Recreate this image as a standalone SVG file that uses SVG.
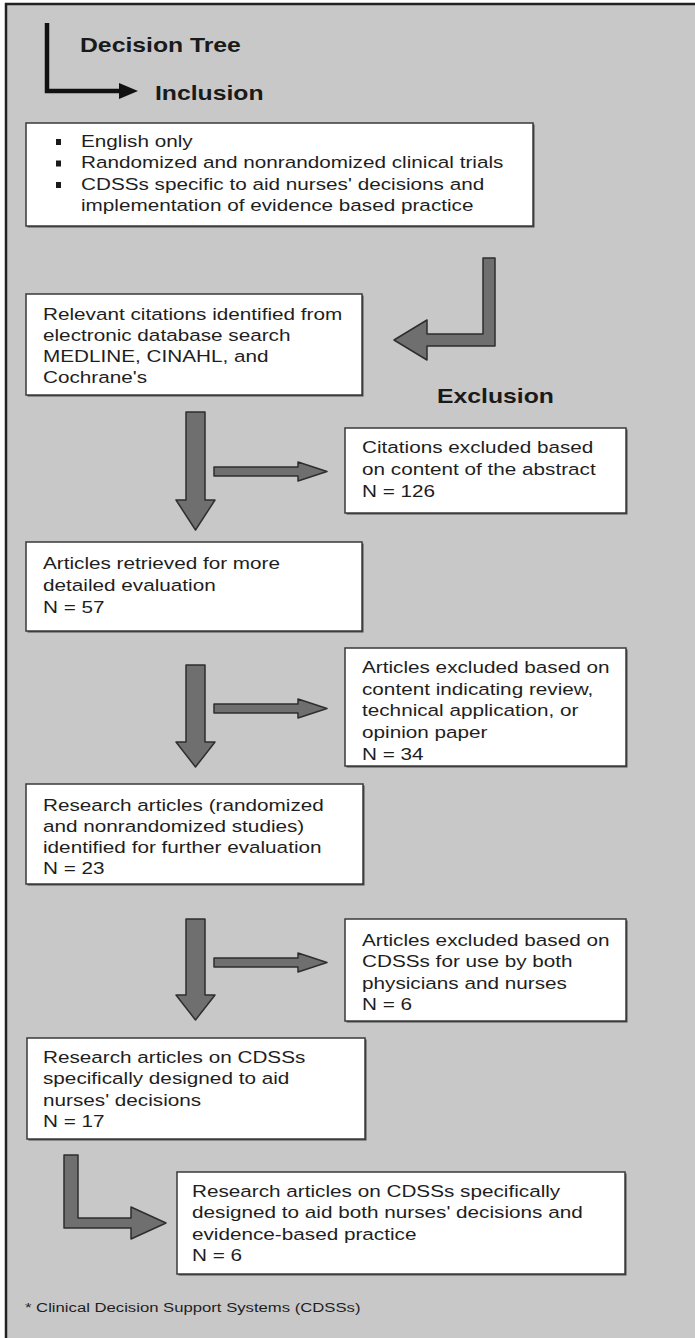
<svg xmlns="http://www.w3.org/2000/svg" width="695" height="1338" viewBox="0 0 695 1338">
  <defs>
    <style>
      .bg { fill: #c8c8c8; }
      .frame { fill: none; stroke: #222; stroke-width: 2.5; }
      .box { fill: #ffffff; stroke: #3a3a3a; stroke-width: 1.5; }
      .shadow { fill: #4a4a4a; }
      .arr { fill: #6f6f6f; stroke: #2e2e2e; stroke-width: 1.5; stroke-linejoin: round; }
      .t { font-family: "Liberation Sans", Arial, sans-serif; font-size: 16.5px; fill: #1e1e1e; }
      .h { font-family: "Liberation Sans", Arial, sans-serif; font-size: 19.5px; font-weight: bold; fill: #1a1a1a; }
      .f { font-family: "Liberation Sans", Arial, sans-serif; font-size: 13.3px; fill: #1e1e1e; }
      .bullet { fill: #1a1a1a; }
    </style>
  </defs>

  <!-- page -->
  <rect x="0" y="0" width="695" height="1338" fill="#ffffff"/>
  <rect class="bg" x="6" y="4" width="689" height="1334"/>
  <path class="frame" d="M6,1338 V4 H695"/>

  <!-- legend: decision tree / inclusion -->
  <g id="legend">
    <path d="M47,23 V91 H122" fill="none" stroke="#111" stroke-width="4.5" stroke-linejoin="miter"/>
    <polygon points="119,83 138,91 119,99" fill="#111"/>
    <text class="h" transform="translate(80,52) scale(1.27,1)">Decision Tree</text>
    <text class="h" transform="translate(155,100) scale(1.27,1)">Inclusion</text>
  </g>

  <g id="exclusion-label">
    <text class="h" transform="translate(437,403) scale(1.27,1)">Exclusion</text>
  </g>

  <!-- inclusion criteria -->
  <g id="criteria">
    <rect class="shadow" x="27.5" y="124.5" width="507" height="103"/>
    <rect class="box" x="26" y="123" width="507" height="103"/>
    <rect class="bullet" x="56" y="139" width="5" height="6"/>
    <rect class="bullet" x="56" y="160.5" width="5" height="6"/>
    <rect class="bullet" x="56" y="182" width="5" height="6"/>
    <text class="t" transform="translate(81,147) scale(1.255,1)">
      <tspan x="0" y="0">English only</tspan>
      <tspan x="0" y="21.5">Randomized and nonrandomized clinical trials</tspan>
      <tspan x="0" y="43">CDSSs specific to aid nurses' decisions and</tspan>
      <tspan x="0" y="64.5">implementation of evidence based practice</tspan>
    </text>
  </g>

  <g id="search">
    <rect class="shadow" x="27.5" y="295.5" width="336" height="101"/>
    <rect class="box" x="26" y="294" width="336" height="101"/>
    <text class="t" transform="translate(43,320) scale(1.255,1)">
      <tspan x="0" y="0">Relevant citations identified from</tspan>
      <tspan x="0" y="21">electronic database search</tspan>
      <tspan x="0" y="42">MEDLINE, CINAHL, and</tspan>
      <tspan x="0" y="63">Cochrane's</tspan>
    </text>
  </g>

  <g id="excluded-abstract">
    <rect class="shadow" x="346.5" y="429.5" width="281" height="85"/>
    <rect class="box" x="345" y="428" width="281" height="85"/>
    <text class="t" transform="translate(362,453) scale(1.255,1)">
      <tspan x="0" y="0">Citations excluded based</tspan>
      <tspan x="0" y="22">on content of the abstract</tspan>
      <tspan x="0" y="44">N = 126</tspan>
    </text>
  </g>

  <g id="retrieved">
    <rect class="shadow" x="27.5" y="543.5" width="336" height="89"/>
    <rect class="box" x="26" y="542" width="336" height="89"/>
    <text class="t" transform="translate(43,569) scale(1.255,1)">
      <tspan x="0" y="0">Articles retrieved for more</tspan>
      <tspan x="0" y="22">detailed evaluation</tspan>
      <tspan x="0" y="44">N = 57</tspan>
    </text>
  </g>

  <g id="excluded-review">
    <rect class="shadow" x="346.5" y="649.5" width="281" height="118"/>
    <rect class="box" x="345" y="648" width="281" height="118"/>
    <text class="t" transform="translate(362,673) scale(1.255,1)">
      <tspan x="0" y="0">Articles excluded based on</tspan>
      <tspan x="0" y="21.7">content indicating review,</tspan>
      <tspan x="0" y="43.4">technical application, or</tspan>
      <tspan x="0" y="65.1">opinion paper</tspan>
      <tspan x="0" y="86.8">N = 34</tspan>
    </text>
  </g>

  <g id="research">
    <rect class="shadow" x="27.5" y="785.5" width="337" height="100"/>
    <rect class="box" x="26" y="784" width="337" height="100"/>
    <text class="t" transform="translate(43,811) scale(1.255,1)">
      <tspan x="0" y="0">Research articles (randomized</tspan>
      <tspan x="0" y="21">and nonrandomized studies)</tspan>
      <tspan x="0" y="42">identified for further evaluation</tspan>
      <tspan x="0" y="63">N = 23</tspan>
    </text>
  </g>

  <g id="excluded-physicians">
    <rect class="shadow" x="346.5" y="920.5" width="281" height="102"/>
    <rect class="box" x="345" y="919" width="281" height="102"/>
    <text class="t" transform="translate(362,946) scale(1.255,1)">
      <tspan x="0" y="0">Articles excluded based on</tspan>
      <tspan x="0" y="21.5">CDSSs for use by both</tspan>
      <tspan x="0" y="43">physicians and nurses</tspan>
      <tspan x="0" y="64.5">N = 6</tspan>
    </text>
  </g>

  <g id="nurse-cdss">
    <rect class="shadow" x="28.5" y="1039.5" width="338" height="101"/>
    <rect class="box" x="27" y="1038" width="338" height="101"/>
    <text class="t" transform="translate(43,1063) scale(1.255,1)">
      <tspan x="0" y="0">Research articles on CDSSs</tspan>
      <tspan x="0" y="21.3">specifically designed to aid</tspan>
      <tspan x="0" y="42.6">nurses' decisions</tspan>
      <tspan x="0" y="63.9">N = 17</tspan>
    </text>
  </g>

  <g id="nurse-ebp-cdss">
    <rect class="shadow" x="178.5" y="1173.5" width="448" height="102"/>
    <rect class="box" x="177" y="1172" width="448" height="102"/>
    <text class="t" transform="translate(192,1197) scale(1.255,1)">
      <tspan x="0" y="0">Research articles on CDSSs specifically</tspan>
      <tspan x="0" y="21.5">designed to aid both nurses' decisions and</tspan>
      <tspan x="0" y="43">evidence-based practice</tspan>
      <tspan x="0" y="64.5">N = 6</tspan>
    </text>
  </g>

  <g id="footnote">
    <text class="f" transform="translate(25,1312) scale(1.255,1)">* Clinical Decision Support Systems (CDSSs)</text>
  </g>

  <!-- block arrows -->
  <g id="connectors">
    <polygon class="arr" points="483,258 495,258 495,346 427,346 427,360 394,340 427,320 427,334 483,334"/>

    <polygon class="arr" points="186,412 205,412 205,500 215,500 195.5,530 176,500 186,500"/>
    <polygon class="arr" points="214,467 298,467 298,462 327,471.5 298,481 298,476 214,476"/>

    <polygon class="arr" points="186,665 205,665 205,742 215,742 195.5,767 176,742 186,742"/>
    <polygon class="arr" points="214,704 298,704 298,699 327,708.5 298,718 298,713 214,713"/>

    <polygon class="arr" points="186,919 205,919 205,995 215,995 195.5,1020 176,995 186,995"/>
    <polygon class="arr" points="214,958 298,958 298,953 327,962.5 298,972 298,967 214,967"/>

    <polygon class="arr" points="64,1155 78,1155 78,1218 131,1218 131,1207 166,1223 131,1239 131,1228 64,1228"/>
  </g>
</svg>
